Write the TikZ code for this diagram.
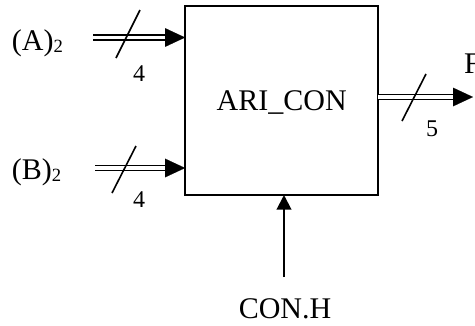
\documentclass[tikz,border=0pt]{standalone}
\usepackage{fontspec}
\setmainfont{Liberation Serif}
\usetikzlibrary{arrows.meta}
\newcommand{\lowtwo}{\raisebox{-2pt}{\fontsize{14}{14}\selectfont 2}}
\begin{document}
\begin{tikzpicture}[x=0.75pt,y=-0.75pt,
  every node/.style={inner sep=0pt, outer sep=0pt},
  big/.style={font=\fontsize{22.5}{26}\selectfont},
  small/.style={font=\fontsize{18}{20}\selectfont},
  bus/.style={line width=1.2pt, double, double distance=2.6pt, shorten >=14pt},
  bushead/.style={-{Triangle[length=15pt,width=14pt]}, line width=0.1pt},
  tick/.style={line width=1.2pt},
  ctrl/.style={line width=1.5pt, -{Triangle[length=11pt,width=11pt]}}]
\useasboundingbox (0,0) rectangle (475,325);
\clip (0,0) rectangle (475,325);
% main block
\node[draw, line width=1.6pt, minimum width=145pt, minimum height=141.75pt,
      big, text depth=0pt] (box) at (281.75,100.5) {ARI\_CON};
% input A
\node[big, anchor=base west] (la) at (12,50) {(A)\lowtwo};
\coordinate (a0) at (93,37.5);
\coordinate (aT) at (box.west |- a0);
\draw[bus] (a0) -- (aT);
\draw[bushead] ([xshift=-15pt]aT) -- (aT);
\coordinate (sa1) at (116,58);
\coordinate (sa2) at (140,10);
\draw[tick] (sa1) -- (sa2);
\node[small] (na) at (139,74) {4};
% input B
\node[big, anchor=base west] (lb) at (12,179) {(B)\lowtwo};
\coordinate (b0) at (95,168);
\coordinate (bT) at (box.west |- b0);
\draw[bus] (b0) -- (bT);
\draw[bushead] ([xshift=-15pt]bT) -- (bT);
\coordinate (sb1) at (112,193);
\coordinate (sb2) at (136,146);
\draw[tick] (sb1) -- (sb2);
\node[small] (nb) at (139,200) {4};
% output
\coordinate (oy) at (0,97);
\coordinate (oS) at (box.east |- oy);
\coordinate (oT) at (473,97);
\draw[bus] (oS) -- (oT);
\draw[bushead] ([xshift=-15pt]oT) -- (oT);
\coordinate (so1) at (402,121);
\coordinate (so2) at (426,74);
\draw[tick] (so1) -- (so2);
\node[small] (no) at (432,129) {5};
\node[big, anchor=west] (lf) at (464,63.5) {F};
% control
\node[big] (ch) at (285,309) {CON.H};
\coordinate (c0) at (284,277);
\draw[ctrl] (c0) -- (c0 |- box.south);
\end{tikzpicture}
\end{document}
